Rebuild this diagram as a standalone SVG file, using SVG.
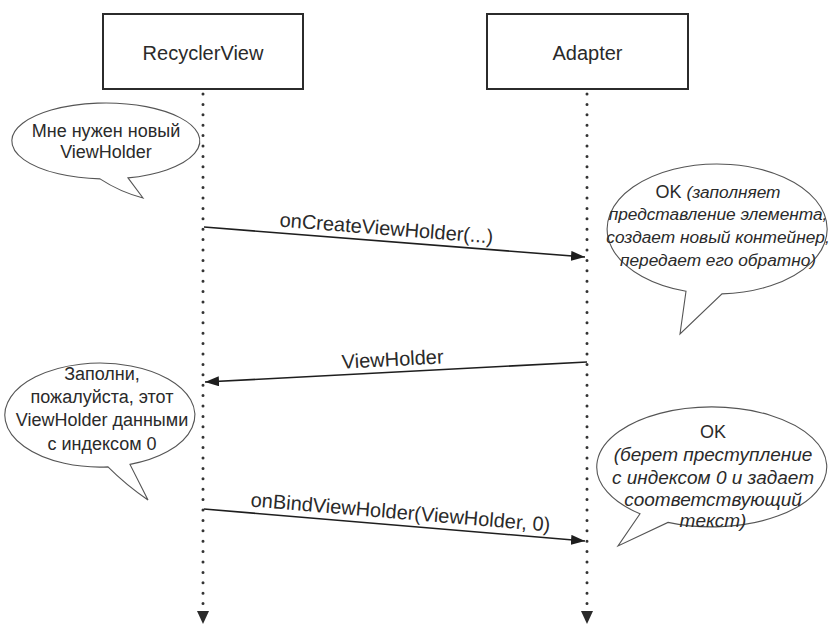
<svg xmlns="http://www.w3.org/2000/svg" width="831" height="625" viewBox="0 0 831 625">
<defs>
<style>
.box{fill:#fff;stroke:#2b2b2b;stroke-width:2}
.t{font-family:"Liberation Sans",Arial,sans-serif;fill:#2a2a2a}
.lbl{font-size:20px;text-anchor:middle}
.bt{font-size:18px;text-anchor:middle}
.it{font-style:italic}
.b2{font-size:17.3px}
.b4{font-size:19px}
.life{stroke:#333;stroke-width:3;stroke-dasharray:0 10.4;stroke-linecap:round;fill:none}
.msg{stroke:#1e1e1e;stroke-width:1.6;fill:none}
.bub{fill:#fff;stroke:#555;stroke-width:1.1}
</style>
<marker id="ah" viewBox="0 0 14 10" refX="14" refY="5" markerWidth="14" markerHeight="10" markerUnits="userSpaceOnUse" orient="auto">
<path d="M0,0 L14,5 L0,10 z" fill="#1e1e1e"/>
</marker>
</defs>

<g id="recyclerview">
<rect class="box" x="103" y="14" width="200" height="75"/>
<text class="t lbl" x="203" y="60">RecyclerView</text>
</g>
<g id="adapter">
<rect class="box" x="487" y="14" width="201" height="75"/>
<text class="t lbl" x="587.5" y="60">Adapter</text>
</g>

<g id="connectors">
<line class="life" x1="203" y1="94" x2="203" y2="606"/>
<path d="M197,611 L209,611 L203,624 z" fill="#2b2b2b"/>
<line class="life" x1="587" y1="94" x2="587" y2="606"/>
<path d="M581,611 L593,611 L587,624 z" fill="#2b2b2b"/>

<line class="msg" x1="204" y1="227" x2="585" y2="257" marker-end="url(#ah)"/>
<text class="t lbl" transform="translate(386,235) rotate(4.5)">onCreateViewHolder(...)</text>

<line class="msg" x1="587" y1="362" x2="205" y2="382" marker-end="url(#ah)"/>
<text class="t lbl" transform="translate(393,366) rotate(-3)">ViewHolder</text>

<line class="msg" x1="204" y1="509" x2="585" y2="541" marker-end="url(#ah)"/>
<text class="t lbl" transform="translate(400,519) rotate(4.8)">onBindViewHolder(ViewHolder, 0)</text>
</g>

<g id="bubble1">
<path class="bub" d="M128,177.9 A94,38 0 1 0 100,178.9 Q120,192 143,198 Z"/>
<text class="t bt" x="106" y="137">Мне нужен новый</text>
<text class="t bt" x="106" y="158">ViewHolder</text>
</g>

<g id="bubble2">
<path class="bub" d="M722,293.9 A110,65 0 1 0 686,291.3 L680,334 Z"/>
<text class="t bt" x="718" y="198">OK <tspan class="it b2">(заполняет</tspan></text>
<text class="t bt it b2" x="718" y="220">представление элемента,</text>
<text class="t bt it b2" x="718" y="243">создает новый контейнер,</text>
<text class="t bt it b2" x="718" y="266">передает его обратно)</text>
</g>

<g id="bubble3">
<path class="bub" d="M130,464.4 A95,52 0 1 0 108,466.9 Q126,485 148,500 Z"/>
<text class="t bt" x="102" y="380">Заполни,</text>
<text class="t bt" x="102" y="403">пожалуйста, этот</text>
<text class="t bt" x="102" y="426">ViewHolder данными</text>
<text class="t bt" x="102" y="450">с индексом 0</text>
</g>

<g id="bubble4">
<path class="bub" d="M668,522.4 A115,60 0 1 0 640,513.8 L618,546 Z"/>
<text class="t bt" x="713" y="438">OK</text>
<text class="t bt it b4" x="713" y="461">(берет преступление</text>
<text class="t bt it b4" x="713" y="484">с индексом 0 и задает</text>
<text class="t bt it b4" x="713" y="506">соответствующий</text>
<text class="t bt it b4" x="713" y="527">текст)</text>
</g>
</svg>
